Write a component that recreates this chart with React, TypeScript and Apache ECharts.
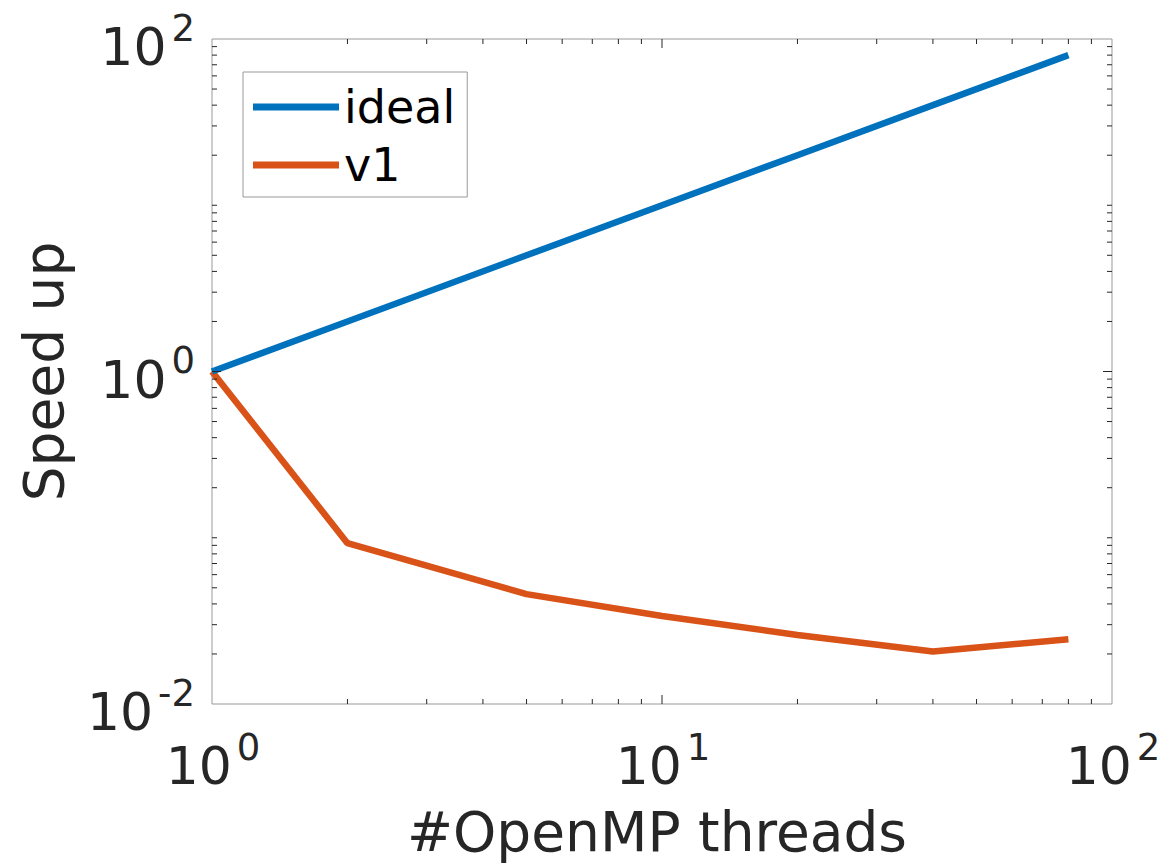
import React, { useEffect, useRef } from "react";
import * as echarts from "echarts";

const threads = [1, 2, 5, 10, 20, 40, 80];
const idealSpeedup = [1, 2, 5, 10, 20, 40, 80];
const v1Speedup = [1, 0.0927, 0.0458, 0.0338, 0.026, 0.0207, 0.0245];

const xMajorTicks = [10];
const xMinorTicks = [2, 3, 4, 5, 6, 7, 8, 9, 20, 30, 40, 50, 60, 70, 80, 90];
const yMajorTicks = [1];
const yMinorTicks = [
  0.02, 0.03, 0.04, 0.05, 0.06, 0.07, 0.08, 0.09, 0.1,
  0.2, 0.3, 0.4, 0.5, 0.6, 0.7, 0.8, 0.9,
  2, 3, 4, 5, 6, 7, 8, 9, 10,
  20, 30, 40, 50, 60, 70, 80, 90,
];

const FONT = "DejaVu Sans";
const TXT = "#262626";

const richLabel = {
  b: { fontSize: 52, lineHeight: 90, fontFamily: FONT, color: TXT },
  s: { fontSize: 37, fontFamily: FONT, color: TXT, padding: [0, 0, 38, 5] },
};

const fmt = (v: number) => {
  const e = Math.round(Math.log10(v));
  return `{b|10}{s|${e}}`;
};

export default function App() {
  const ref = useRef<HTMLDivElement>(null);
  useEffect(() => {
    if (!ref.current) return;
    const chart = echarts.init(ref.current, null, { renderer: "svg" });
    const tickData: number[][] = [];
    xMajorTicks.forEach((v) => tickData.push([v, 1, 0, 1]));
    xMinorTicks.forEach((v) => tickData.push([v, 1, 0, 0]));
    yMajorTicks.forEach((v) => tickData.push([1, v, 1, 1]));
    yMinorTicks.forEach((v) => tickData.push([1, v, 1, 0]));

    chart.setOption({
      animation: false,
      backgroundColor: "#ffffff",
      grid: {
        left: 212,
        right: 50,
        top: 39,
        bottom: 164,
        show: true,
        borderColor: "#999999",
        borderWidth: 1,
        backgroundColor: "transparent",
        outerBoundsMode: "none",
      },
      legend: {
        data: ["ideal", "v1"],
        orient: "vertical",
        left: 243,
        top: 72,
        padding: [9, 12, 6, 10],
        itemGap: 6,
        itemWidth: 86,
        itemHeight: 7,
        icon: "rect",
        borderColor: "#999999",
        borderWidth: 1,
        backgroundColor: "#ffffff",
        textStyle: { fontSize: 46, lineHeight: 52, fontFamily: FONT, color: "#000000" },
      },
      xAxis: {
        type: "log",
        logBase: 10,
        min: 1,
        max: 100,
        name: "#OpenMP threads",
        nameLocation: "middle",
        nameGap: 100,
        nameTextStyle: { fontSize: 55, lineHeight: 55, fontFamily: FONT, color: TXT, padding: [0, 10, 0, 0] },
        axisLine: { show: false },
        axisTick: { show: false },
        splitLine: { show: false },
        axisLabel: {
          margin: 17,
          padding: [0, 0, 0, 2],
          showMinLabel: true,
          showMaxLabel: true,
          formatter: fmt,
          rich: richLabel,
        },
      },
      yAxis: {
        type: "log",
        logBase: 10,
        min: 0.01,
        max: 100,
        name: "Speed up",
        nameLocation: "middle",
        nameGap: 141,
        nameTextStyle: { fontSize: 55, lineHeight: 55, fontFamily: FONT, color: TXT },
        axisLine: { show: false },
        axisTick: { show: false },
        splitLine: { show: false },
        axisLabel: {
          margin: 17,
          padding: [16, 0, 0, 0],
          showMinLabel: true,
          showMaxLabel: true,
          formatter: (v: number) => {
            const e = Math.round(Math.log10(v));
            return e % 2 === 0 ? fmt(v) : "";
          },
          rich: richLabel,
        },
      },
      series: [
        {
          name: "ideal",
          type: "line",
          data: threads.map((t, i) => [t, idealSpeedup[i]]),
          symbol: "none",
          lineStyle: { width: 6.5, color: "#0072BD" },
          itemStyle: { color: "#0072BD" },
          z: 3,
        },
        {
          name: "v1",
          type: "line",
          data: threads.map((t, i) => [t, v1Speedup[i]]),
          symbol: "none",
          lineStyle: { width: 6.5, color: "#D95319" },
          itemStyle: { color: "#D95319" },
          z: 2,
        },
        {
          type: "custom",
          silent: true,
          z: 5,
          encode: { x: 0, y: 1 },
          data: tickData,
          renderItem: (params: any, api: any) => {
            const cs = params.coordSys;
            const axis = api.value(2);
            const major = api.value(3);
            const len = major ? 9 : 5;
            const style = { stroke: TXT, lineWidth: 1 };
            if (axis === 0) {
              const px = api.coord([api.value(0), 1])[0];
              return {
                type: "group",
                children: [
                  { type: "line", shape: { x1: px, y1: cs.y + cs.height, x2: px, y2: cs.y + cs.height - len }, style },
                  { type: "line", shape: { x1: px, y1: cs.y, x2: px, y2: cs.y + len }, style },
                ],
              };
            }
            const py = api.coord([1, api.value(1)])[1];
            return {
              type: "group",
              children: [
                { type: "line", shape: { x1: cs.x, y1: py, x2: cs.x + len, y2: py }, style },
                { type: "line", shape: { x1: cs.x + cs.width, y1: py, x2: cs.x + cs.width - len, y2: py }, style },
              ],
            };
          },
        },
      ],
    });
    return () => chart.dispose();
  }, []);
  return (
    <div
      ref={ref}
      style={{ position: "absolute", left: 0, top: 0, width: 1162, height: 868 }}
    />
  );
}
